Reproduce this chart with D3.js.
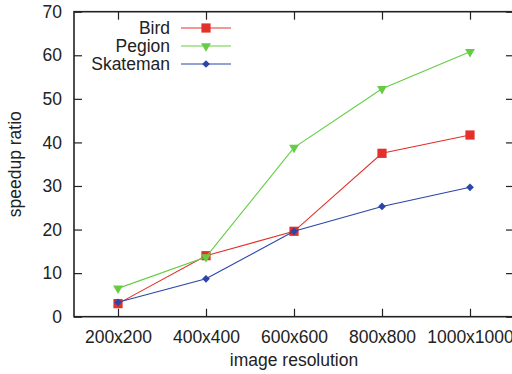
<!DOCTYPE html>
<html>
<head>
<meta charset="utf-8">
<script src="https://cdn.jsdelivr.net/npm/d3@7"></script>
<style>
  body { margin: 0; background: #fff; }
  svg text { font-family: "Liberation Sans", Arial, sans-serif; fill: #222; }
</style>
</head>
<body>
<div id="app"></div>
<script>
const categories = ['200x200', '400x400', '600x600', '800x800', '1000x1000']
const bird = [3.0, 14.0, 19.6, 37.5, 41.7]
const pegion = [6.5, 13.7, 38.8, 52.3, 60.8]
const skateman = [3.3, 8.7, 19.6, 25.3, 29.7]
const yTicks = [0, 10, 20, 30, 40, 50, 60, 70]

const series = [
  { name: 'Bird', values: bird, color: '#e3302a', shape: d3.symbolSquare, size: 85, rot: 0 },
  { name: 'Pegion', values: pegion, color: '#66cc44', shape: d3.symbolTriangle, size: 42, rot: 180 },
  { name: 'Skateman', values: skateman, color: '#2a46a6', shape: d3.symbolSquare, size: 30, rot: 45 }
]

const width = 512, height = 374
const plotL = 74, plotR = 514, plotT = 11.7, plotB = 316.7
const fs = '17.5px'

let svg = d3.select('#app').append('svg')
  .attr('width', width).attr('height', height)

const x = d3.scalePoint().domain(categories).range([plotL, plotR]).padding(0.5)
const y = d3.scaleLinear().domain([0, 70]).range([plotB, plotT])

// axes with inward ticks, mirrored on top/right
const styleAxis = g => {
  g.select('.domain').remove()
  g.selectAll('line').attr('stroke', '#222').attr('stroke-width', 1.2)
  g.selectAll('text').style('font-size', fs).attr('fill', '#222')
}
svg.append('g').attr('transform', `translate(0,${plotB})`)
  .call(d3.axisBottom(x).tickSizeInner(-8).tickSizeOuter(0).tickPadding(14))
  .call(styleAxis)
svg.append('g').attr('transform', `translate(0,${plotT})`)
  .call(d3.axisTop(x).tickSizeInner(-8).tickSizeOuter(0).tickFormat(''))
  .call(styleAxis)
svg.append('g').attr('transform', `translate(${plotL},0)`)
  .call(d3.axisLeft(y).tickValues(yTicks).tickSizeInner(-8).tickSizeOuter(0).tickPadding(12))
  .call(styleAxis)
svg.append('g').attr('transform', `translate(${plotR},0)`)
  .call(d3.axisRight(y).tickValues(yTicks).tickSizeInner(-8).tickSizeOuter(0).tickFormat(''))
  .call(styleAxis)

svg.append('rect')
  .attr('x', plotL).attr('y', plotT)
  .attr('width', plotR - plotL).attr('height', plotB - plotT)
  .attr('fill', 'none').attr('stroke', '#222').attr('stroke-width', 1.6)

// axis titles
svg.append('text')
  .attr('x', (plotL + plotR) / 2).attr('y', 366)
  .attr('text-anchor', 'middle').style('font-size', fs)
  .text('image resolution')
svg.append('text')
  .attr('transform', `translate(21,${(plotT + plotB) / 2}) rotate(-90)`)
  .attr('text-anchor', 'middle').style('font-size', fs)
  .text('speedup ratio')

const line = d3.line().x((d, i) => x(categories[i])).y(d => y(d))

series.forEach(s => {
  svg.append('path')
    .attr('d', line(s.values))
    .attr('fill', 'none').attr('stroke', s.color).attr('stroke-width', 1.1)
  svg.append('g').selectAll('path').data(s.values).enter().append('path')
    .attr('d', d3.symbol().type(s.shape).size(s.size))
    .attr('transform', (d, i) => `translate(${x(categories[i])},${y(d)}) rotate(${s.rot})`)
    .attr('fill', s.color)
})

// legend
let legend = svg.append('g')
series.forEach((s, i) => {
  const ly = 28 + i * 18
  legend.append('text')
    .attr('x', 170).attr('y', ly + 6)
    .attr('text-anchor', 'end').style('font-size', fs)
    .text(s.name)
  legend.append('line')
    .attr('x1', 181).attr('x2', 231).attr('y1', ly).attr('y2', ly)
    .attr('stroke', s.color).attr('stroke-width', 1.1)
  legend.append('path')
    .attr('d', d3.symbol().type(s.shape).size(s.size))
    .attr('transform', `translate(206,${ly}) rotate(${s.rot})`)
    .attr('fill', s.color)
})
</script>
</body>
</html>
